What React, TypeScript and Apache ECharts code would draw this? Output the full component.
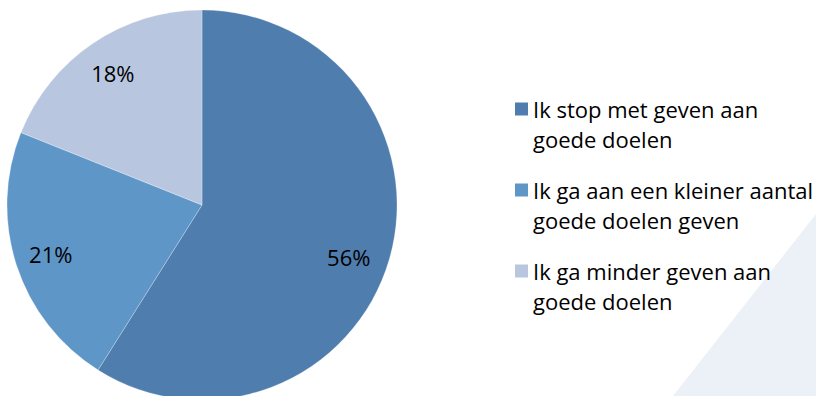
import React, { useEffect, useRef } from "react";
import * as echarts from "echarts";

const categories = [
  "Ik stop met geven aan\ngoede doelen",
  "Ik ga aan een kleiner aantal\ngoede doelen geven",
  "Ik ga minder geven aan\ngoede doelen",
];
const values = [56, 21, 18];
const colors = ["#4F7DAE", "#5E96C8", "#B8C7DF"];

export default function App() {
  const ref = useRef<HTMLDivElement>(null);
  useEffect(() => {
    if (!ref.current) return;
    const chart = echarts.init(ref.current, null, { renderer: "svg" });
    const font = "'Open Sans', 'Liberation Sans', sans-serif";
    const data = categories.map((name, i) => ({
      name,
      value: values[i],
      itemStyle: { color: colors[i] },
    }));
    chart.setOption({
      animation: false,
      backgroundColor: "#ffffff",
      graphic: [
        {
          type: "polygon",
          silent: true,
          z: -10,
          shape: { points: [[673, 396], [816, 214], [816, 396]] },
          style: { fill: "#ECF0F7" },
        },
      ],
      legend: {
        orient: "vertical",
        left: 510,
        top: 89,
        itemWidth: 13,
        itemHeight: 43,
        itemGap: 21,
        icon: "path://M0,0h13v13h-13zM0,43h0",
        selectedMode: false,
        data: categories,
        itemStyle: { borderWidth: 0 },
        textStyle: {
          fontFamily: font,
          fontSize: 22,
          color: "#000000",
          lineHeight: 30,
        },
      },
      series: [
        {
          type: "pie",
          center: [202, 205],
          radius: 195,
          startAngle: 90,
          clockwise: true,
          label: { show: false },
          labelLine: { show: false },
          itemStyle: { borderColor: "rgba(255,255,255,0.5)", borderWidth: 0.5 },
          data,
        },
        {
          type: "pie",
          center: [202, 205],
          radius: [117, 195],
          startAngle: 90,
          clockwise: true,
          silent: true,
          legendHoverLink: false,
          itemStyle: { color: "transparent" },
          label: {
            show: true,
            position: "inside",
            formatter: (p: any) => Math.round(p.value) + "%",
            fontFamily: font,
            fontSize: 22,
            color: "#000000",
          },
          labelLine: { show: false },
          data: categories.map((name, i) => ({
            name: name + " ",
            value: values[i],
            label: i === 0 ? { offset: [-6, 8] } : undefined,
          })),
        },
      ],
    });
    return () => chart.dispose();
  }, []);
  return (
    <div
      ref={ref}
      style={{ position: "fixed", left: 0, top: 0, width: 816, height: 396 }}
    />
  );
}
